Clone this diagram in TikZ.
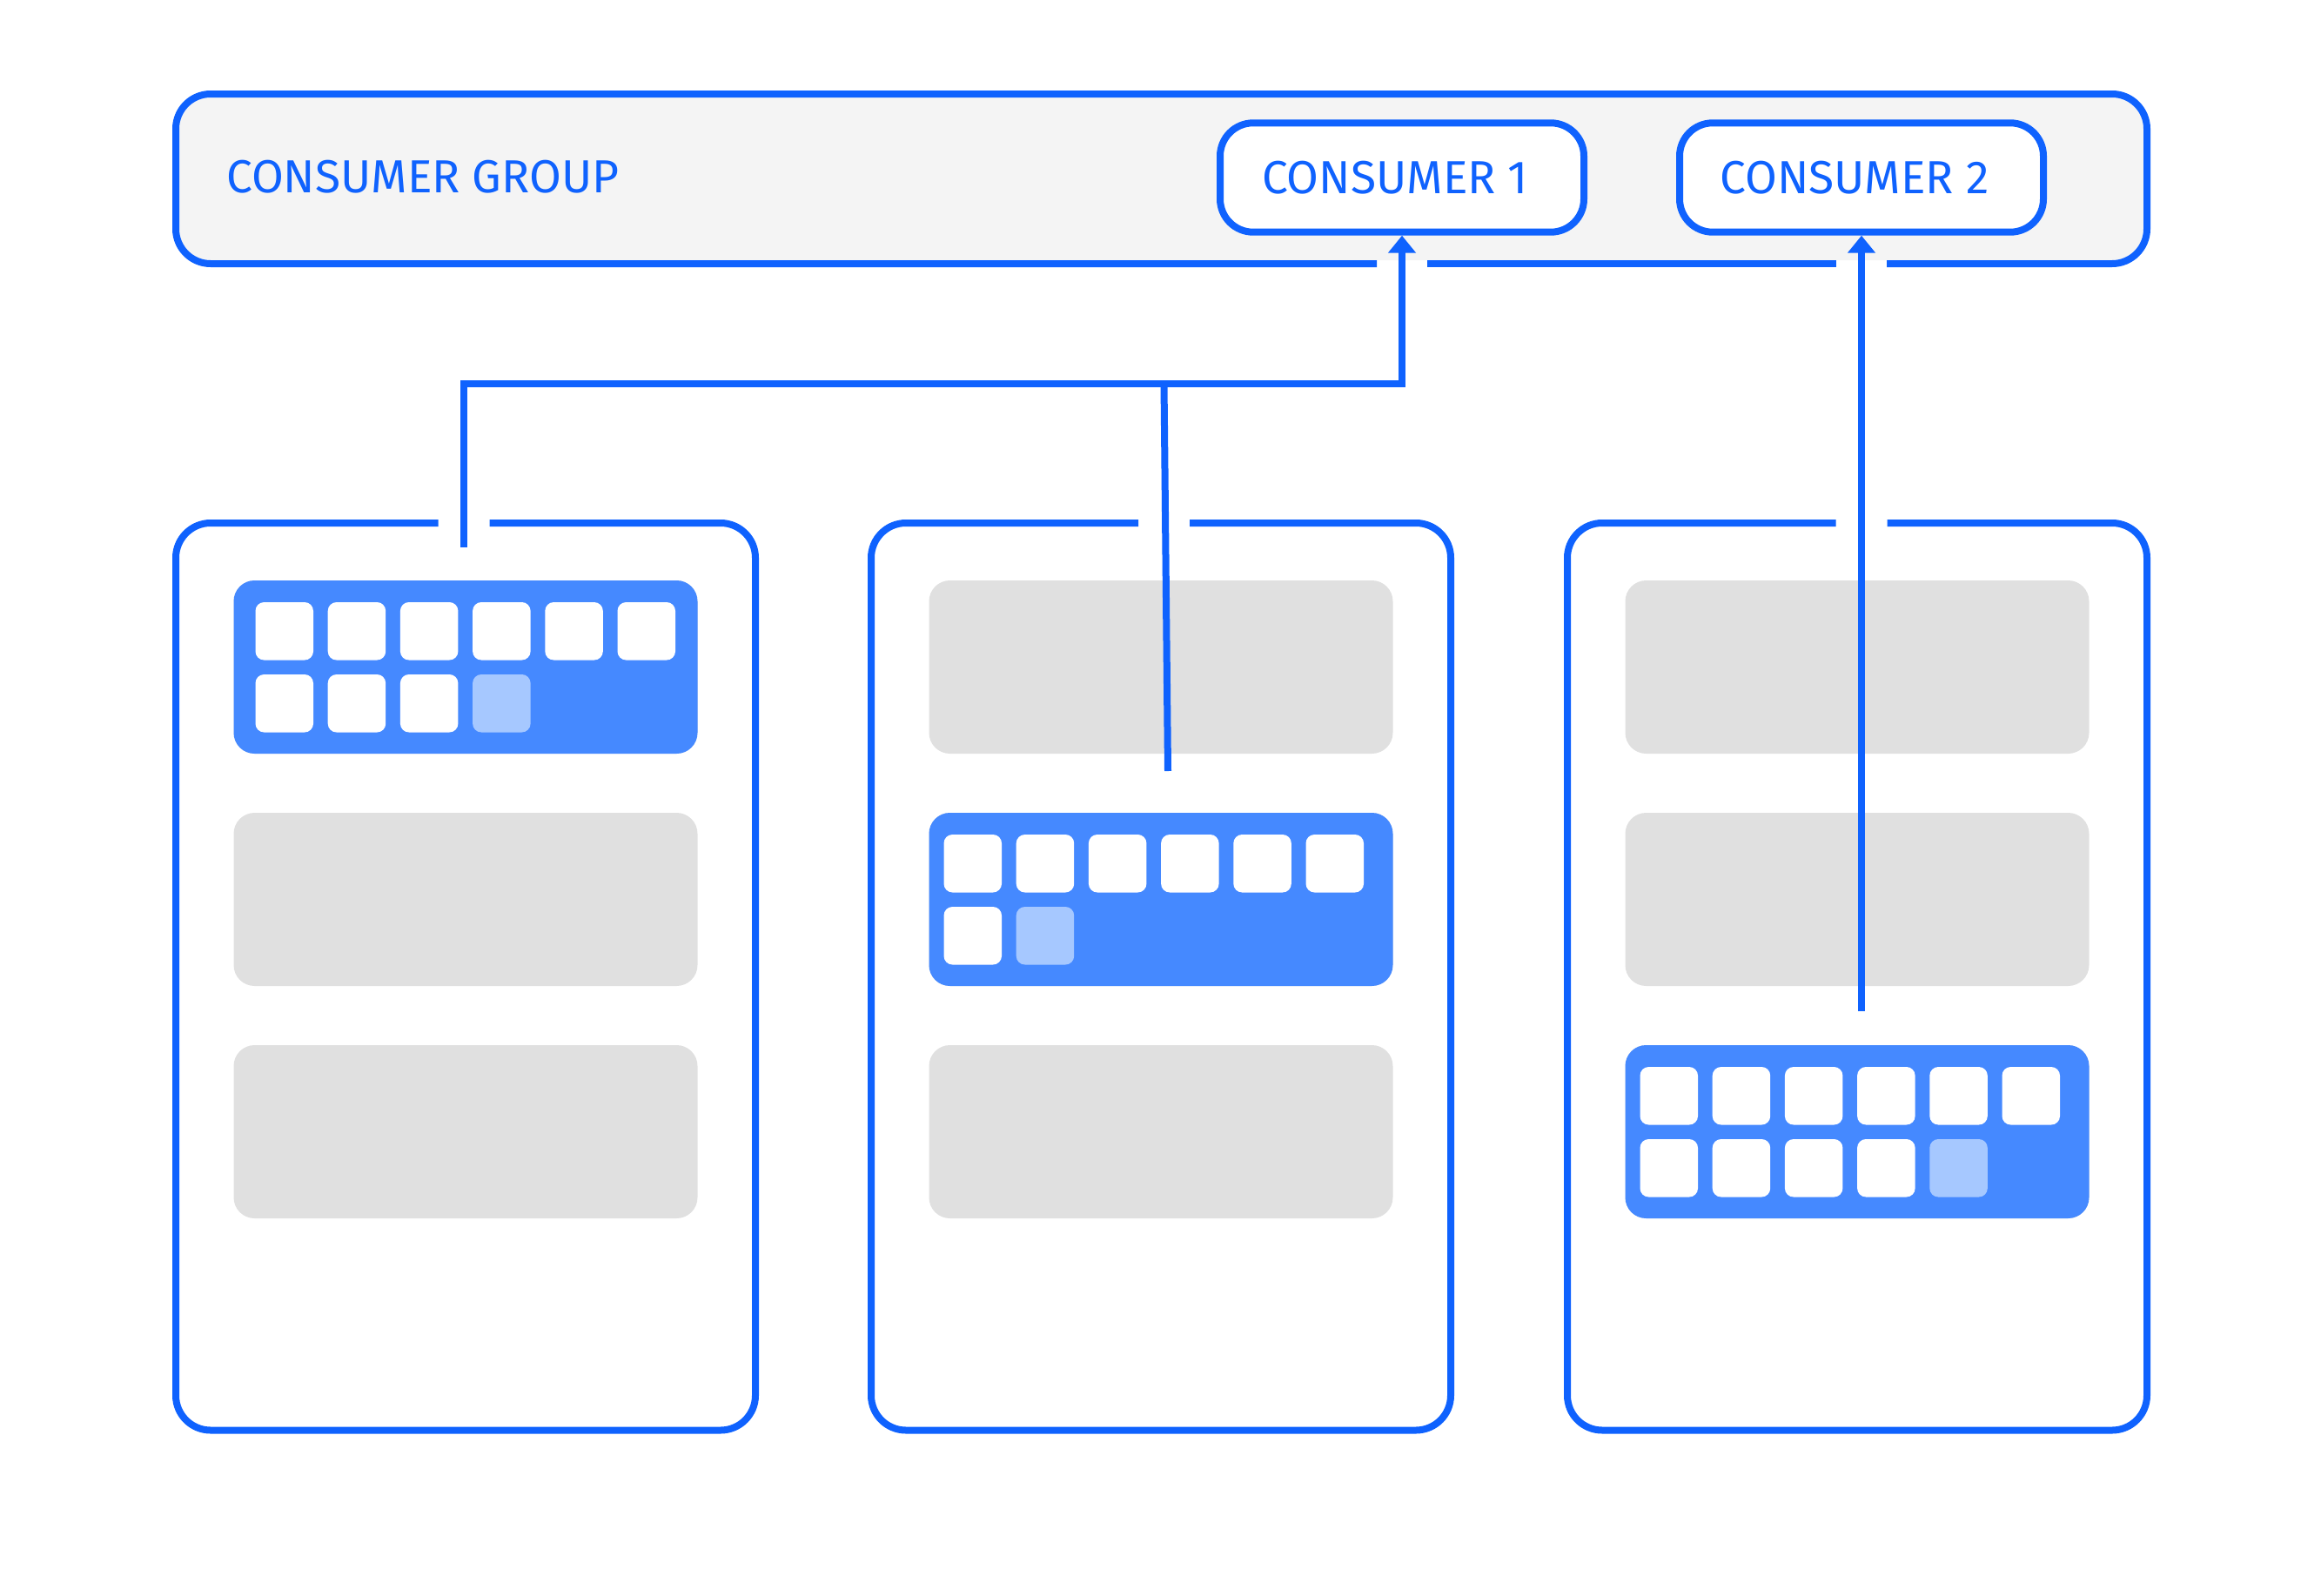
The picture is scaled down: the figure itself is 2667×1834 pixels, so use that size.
\documentclass[tikz,border=0pt]{standalone}
\usepackage{fontspec}
\setmainfont{Fira Sans}
\usetikzlibrary{arrows.meta,calc}
\definecolor{ibmblue}{HTML}{0F62FE}
\definecolor{actblue}{HTML}{4589FF}
\definecolor{lightblue}{HTML}{A6C8FF}
\definecolor{partgray}{HTML}{E0E0E0}
\definecolor{grpgray}{HTML}{F4F4F4}
\begin{document}
\begin{tikzpicture}[x=1pt,y=-1pt,
  bord/.style={draw=ibmblue, line width=8pt},
  conn/.style={draw=ibmblue, line width=8pt},
  arr/.style={-{Triangle[length=20pt,width=31pt]}},
  lbl/.style={text=ibmblue, font=\fontsize{53.3pt}{64pt}\selectfont},
  cons/.style={lbl, draw=ibmblue, line width=8pt, fill=white, rounded corners=38pt,
    minimum width=418pt, minimum height=125.4pt, inner sep=0pt,
    text height=36.7pt, text depth=0pt},
  frame/.style={inner sep=0pt, outer sep=0pt},
  part/.style={rounded corners=24pt},
  sq/.style={rounded corners=10pt}]
\useasboundingbox (0,0) rectangle (2667,1834);

% consumer group
\node[frame, minimum width=2265pt, minimum height=195pt] (grp) at (1334.5,205.5) {};
\fill[grpgray, rounded corners=36pt] ($(grp.south west)+(4,-4)$) rectangle ($(grp.north east)+(-4,4)$);
\node[lbl, anchor=base west, inner sep=0pt] (cgt) at (260,221.7) {CONSUMER GROUP};
\node[cons] (c1) at (1611,204) {CONSUMER 1\kern16pt};
\node[cons] (c2) at (2139,204) {CONSUMER 2\kern16pt};
\draw[bord, rounded corners=40pt] ($(grp.south west -| c1.south)+(-29,0)$) -- (grp.south west) -- (grp.north west) -- (grp.north east) -- (grp.south east) -- ($(grp.south west -| c2.south)+(29,0)$);
\draw[bord] ($(grp.south west -| c1.south)+(29,0)$) -- ($(grp.south west -| c2.south)+(-29,0)$);

% connector end points
\coordinate (k1) at (533,629);
\coordinate (h) at (0,441);
\coordinate (j2) at (1337.5,441);
\coordinate (k2) at (1342,886);
\coordinate (k3) at (2139,1162);

% brokers
\coordinate (g1) at (533,601);
\coordinate (g2) at (1337.5,601);
\coordinate (g3) at (2139,601);
\foreach \i/\cx in {1/535,2/1334,3/2134} {
  \node[frame, minimum width=666pt, minimum height=1042.5pt] (b\i) at (\cx,1122.25) {};
  \draw[bord, rounded corners=40pt] ($(g\i)+(-29.5,0)$) -- (b\i.north west) -- (b\i.south west) -- (b\i.south east) -- (b\i.north east) -- ($(g\i)+(29.5,0)$);
  \foreach \r in {0,1,2}
    \fill[partgray, part] (\cx-266.5, 667+\r*267) rectangle (\cx+266.5, 866+\r*267);
}

% active partitions with messages
\foreach \i/\cx/\n/\off in {0/535/10/25, 1/1334/8/17, 2/2134/11/17} {
  \fill[actblue, part] (\cx-266.5, 667+\i*267) rectangle (\cx+266.5, 866+\i*267);
  \foreach \k in {1,...,\n} {
    \pgfmathtruncatemacro\col{mod(\k-1,6)}
    \pgfmathtruncatemacro\row{(\k-1)/6}
    \ifnum\k=\n\def\sqc{lightblue}\else\def\sqc{white}\fi
    \fill[\sqc, sq] (\cx-266.5+\off+\col*83.2, 692+\i*267+\row*83) rectangle ++(66.5,66.5);
  }
}

% connectors
\draw[conn, arr] (k1) -- (k1 |- h) -- (c1.south |- h) -- (c1.south);
\draw[conn] (j2) -- (k2);
\draw[conn, arr] (k3) -- (k3 |- c2.south);
\end{tikzpicture}
\end{document}
